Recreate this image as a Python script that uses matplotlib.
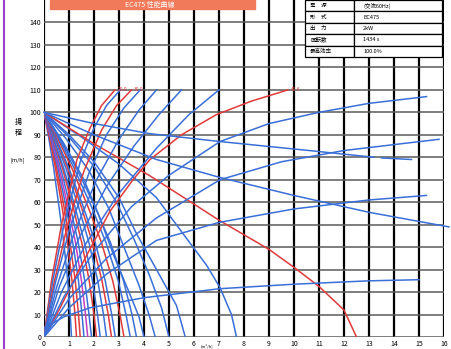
import matplotlib
matplotlib.use("Agg")
import matplotlib.pyplot as plt
from matplotlib.patches import Rectangle

plt.rcParams['font.family'] = ['Noto Sans CJK JP', 'DejaVu Sans']

# ---- data ----
x_ticks = list(range(0, 17))
y_ticks = list(range(0, 150, 10))

# pump curves: start at shut-off head, drop to zero head
pump_colors = ['#3a6fd8', '#e03a3a', '#e03a3a', '#3a6fd8', '#c040c0', '#3a6fd8',
               '#e03a3a', '#3a6fd8', '#3a6fd8', '#e03a3a', '#3a6fd8', '#e03a3a',
               '#3a6fd8', '#3a6fd8', '#3a6fd8', '#3a6fd8', '#3a6fd8', '#3a6fd8',
               '#3a6fd8', '#e03a3a']
pump_x = [
    [0, 0.17, 0.39, 0.6, 0.79, 0.95, 1.05, 1.1],
    [0, 0.2, 0.46, 0.72, 0.94, 1.12, 1.24, 1.3],
    [0, 0.22, 0.51, 0.8, 1.04, 1.25, 1.38, 1.45],
    [0, 0.24, 0.56, 0.88, 1.15, 1.38, 1.52, 1.6],
    [0, 0.26, 0.61, 0.96, 1.26, 1.5, 1.66, 1.75],
    [0, 0.29, 0.67, 1.05, 1.37, 1.63, 1.8, 1.9],
    [0, 0.32, 0.74, 1.16, 1.51, 1.81, 2.0, 2.1],
    [0, 0.34, 0.79, 1.24, 1.62, 1.94, 2.14, 2.25],
    [0, 0.38, 0.88, 1.38, 1.8, 2.15, 2.38, 2.5],
    [0, 0.41, 0.95, 1.49, 1.94, 2.32, 2.57, 2.7],
    [0, 0.43, 1.0, 1.57, 2.05, 2.45, 2.71, 2.85],
    [0, 0.48, 1.12, 1.76, 2.3, 2.75, 3.04, 3.2],
    [0, 0.52, 1.21, 1.9, 2.48, 2.97, 3.28, 3.45],
    [0, 0.56, 1.3, 2.04, 2.66, 3.18, 3.52, 3.7],
    [0, 0.8, 1.6, 2.2, 2.8, 3.4, 3.8, 4.0],
    [0, 0.9, 1.8, 2.6, 3.2, 3.8, 4.2, 4.45],
    [0, 1.0, 2.0, 2.9, 3.6, 4.2, 4.7, 5.0],
    [0, 1.0, 2.0, 3.0, 3.7, 4.6, 5.3, 5.65],
    [0, 1.5, 3.0, 4.5, 5.56, 6.5, 7.04, 7.5, 7.7],
    [0, 2.0, 4.2, 7.0, 9.0, 10.0, 11.0, 12.0, 12.5],
]
pump_y = [
    [100, 90, 75, 58, 42, 25, 10, 0],
    [100, 90, 75, 58, 42, 25, 10, 0],
    [100, 90, 75, 58, 42, 25, 10, 0],
    [100, 90, 75, 58, 42, 25, 10, 0],
    [100, 90, 75, 58, 42, 25, 10, 0],
    [100, 90, 75, 58, 42, 25, 10, 0],
    [100, 90, 75, 58, 42, 25, 10, 0],
    [100, 90, 75, 58, 42, 25, 10, 0],
    [100, 90, 75, 58, 42, 25, 10, 0],
    [100, 90, 75, 58, 42, 25, 10, 0],
    [100, 90, 75, 58, 42, 25, 10, 0],
    [100, 90, 75, 58, 42, 25, 10, 0],
    [100, 90, 75, 58, 42, 25, 10, 0],
    [100, 90, 75, 58, 42, 25, 10, 0],
    [100, 86, 70, 54, 36, 20, 9, 0],
    [100, 88, 74, 57, 40, 23, 10, 0],
    [100, 89, 76, 60, 43.5, 28, 13, 0],
    [100, 90, 78, 62, 46, 28, 14, 0],
    [100, 89, 77, 62, 46, 32, 22, 10, 0],
    [100, 86, 72, 52, 39, 31, 22.5, 12, 0],
]

# rising curves from the origin
rise_colors = ['#e03a3a', '#3a6fd8', '#e03a3a', '#3a6fd8', '#3a6fd8', '#3a6fd8',
               '#3a6fd8', '#e03a3a', '#3a6fd8', '#3a6fd8', '#3a6fd8', '#3a6fd8']
rise_x = [
    [0, 0.3, 0.7, 1.32, 1.84, 2.3, 2.84],
    [0, 0.35, 0.8, 1.45, 2.0, 2.5, 3.05],
    [0, 0.4, 0.9, 1.6, 2.3, 2.9, 3.5],
    [0, 0.45, 1.0, 1.8, 2.5, 3.2, 3.85],
    [0, 0.5, 1.2, 2.1, 3.0, 3.8, 4.5],
    [0, 0.6, 1.4, 2.5, 3.6, 4.6, 5.5],
    [0, 0.7, 1.7, 3.0, 4.5, 5.8, 7.0],
    [0, 0.6, 1.5, 2.64, 3.56, 4.24, 5.5, 6.9, 8.3, 9.76],
    [0, 0.8, 2.0, 3.5, 5.0, 7.04, 9.0, 11.0, 13.0, 15.3],
    [0, 1.0, 2.5, 4.5, 7.04, 9.5, 12.0, 15.8],
    [0, 1.0, 2.5, 4.5, 7.0, 10.0, 13.0, 15.3],
    [0, 0.8, 1.84, 4.0, 7.04, 10.0, 13.0, 15.0],
]
rise_y = [
    [0, 25, 50, 79, 93, 103, 110],
    [0, 25, 50, 78, 93, 103, 110],
    [0, 24, 48, 74, 92, 103, 110],
    [0, 24, 47, 73, 90, 102, 110],
    [0, 22, 46, 70, 88, 101, 110],
    [0, 22, 44, 67, 85, 99, 110],
    [0, 20, 42, 64, 84, 99, 110],
    [0, 12, 32, 56, 70, 79, 90, 99, 105, 110],
    [0, 18, 38, 58, 72, 87, 95, 100, 104, 107],
    [0, 17, 35, 53, 70, 78, 83, 88],
    [0, 13, 28, 43, 51, 57, 61, 63],
    [4, 9, 13, 17.5, 21.5, 23.5, 25, 25.5],
]

# long flat curves from the shut-off point
fan_x = [
    [0, 2, 4.24, 7.04, 10.6, 13.2],
    [0, 2, 4.5, 7.04, 10, 13, 16.2],
]
fan_y = [
    [100, 95, 90.5, 87, 83, 80],
    [100, 90, 79, 71, 63, 55.5, 49],
]
fan_tail_x = [13.5, 14.7]
fan_tail_y = [79.7, 79]

rise_labels = ['20.0', '30.0', '45.6']
rise_label_idx = [0, 2, 7]

table_rows = [['電　源', '(交流60Hz)'],
              ['形　式', 'EC475'],
              ['出　力', '2kW'],
              ['回転数', '1434 s'],
              ['最高効率', '100.0%']]

# ---- figure ----
fig = plt.figure(figsize=(4.51, 3.49), dpi=100)
ax = fig.add_axes([44 / 451, 12 / 349, 400 / 451, 337 / 349])
ax.set_xlim(0, 16)
ax.set_ylim(0, 150)

for xv in x_ticks:
    ax.axvline(xv, color='black', lw=1.6, zorder=1)
for yv in y_ticks:
    ax.axhline(yv, color='#5a5a5a', lw=1.1, zorder=1)

for xs, ys, c in zip(pump_x, pump_y, pump_colors):
    ax.plot(xs, ys, color=c, lw=1.1, zorder=3)
for xs, ys, c in zip(rise_x, rise_y, rise_colors):
    ax.plot(xs, ys, color=c, lw=1.1, zorder=3)
for xs, ys in zip(fan_x, fan_y):
    ax.plot(xs, ys, color='#3a6fd8', lw=1.1, zorder=3, clip_on=False)
ax.plot(fan_tail_x, fan_tail_y, color='#3a6fd8', lw=1.1, zorder=3)

for lab, i in zip(rise_labels, rise_label_idx):
    ax.text(rise_x[i][-1] + 0.1, rise_y[i][-1], lab, color='#e03a3a',
            fontsize=3.5, ha='left', va='center', zorder=4)

ax.set_xticks(x_ticks)
ax.set_yticks(y_ticks)
ax.tick_params(length=0, labelsize=5, pad=2)
for s in ax.spines.values():
    s.set_visible(False)

# spec table
tbl = ax.table(cellText=table_rows, colWidths=[0.36, 0.64],
               bbox=[0.653, 0.831, 0.342, 0.169], cellLoc='left', zorder=5)
tbl.auto_set_font_size(False)
tbl.set_fontsize(4)
for (r, c), cell in tbl.get_celld().items():
    cell.set_linewidth(0.9)
    cell.set_edgecolor('black')
    cell.set_facecolor('white')

# axis titles
fig.text(18 / 451, 1 - 122 / 349, '揚', fontsize=5, ha='center', va='center')
fig.text(18 / 451, 1 - 133 / 349, '程', fontsize=5, ha='center', va='center')
fig.text(18 / 451, 1 - 160 / 349, '[m/h]', fontsize=4, ha='center', va='center')
fig.text(206.5 / 451, 1 - 346.5 / 349, '[m³/h]', fontsize=3, ha='center', va='center')

# header banner and page border
fig.patches.append(Rectangle((50 / 451, 1 - 9 / 349), 205 / 451, 9 / 349,
                             transform=fig.transFigure, color='#f07a5a', zorder=6))
fig.text(150 / 451, 1 - 4.5 / 349, 'EC475 性能曲線', color='white', fontsize=5,
         ha='center', va='center', zorder=7)
fig.add_artist(plt.Line2D([4 / 451, 4 / 451], [0, 1], color='#9a40d0', lw=1.5,
                          transform=fig.transFigure))

fig.savefig('out.png', dpi=100)
